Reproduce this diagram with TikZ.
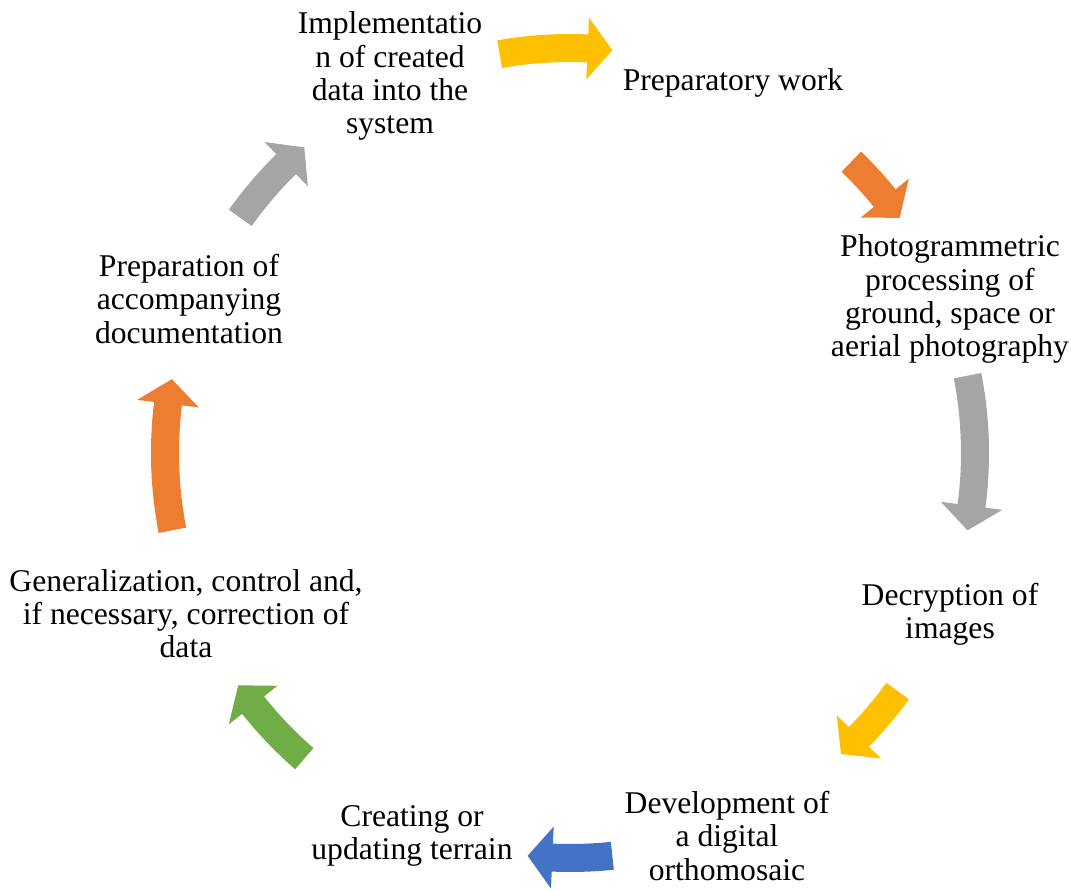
\documentclass[tikz,border=0pt]{standalone}
\usepackage{fontspec}
\setmainfont{Liberation Serif}
\usetikzlibrary{positioning}
\definecolor{cycYellow}{HTML}{FFC000}
\definecolor{cycOrange}{HTML}{ED7D31}
\definecolor{cycGray}{HTML}{A5A5A5}
\definecolor{cycBlue}{HTML}{4472C4}
\definecolor{cycGreen}{HTML}{70AD47}
\tikzset{
stage/.style={align=center, inner sep=0pt, font=\fontsize{18}{18.8}\selectfont}, % text of every stage
}
% curved block arrow on the cycle: colour, start angle, end angle (clockwise)
\newcommand{\cyclearrow}[3]{%
  \fill[#1] (#2:8.38) arc[start angle=#2, end angle={#3+3.5}, radius=8.38]
    -- ({#3+3.5}:8.72) -- (#3:8.1) -- ({#3+3.5}:7.48) -- ({#3+3.5}:7.82)
    arc[start angle={#3+3.5}, end angle=#2, radius=7.82] -- cycle;
}

\begin{document}
\begin{tikzpicture}
        \useasboundingbox (-11.4,-8.76) rectangle (10.02,9.06);

        \node[stage] (impl)  at (-3.6,7.54)   {Implementatio\\n of created\\data into the\\system};
        \node[stage] (prep)  at (3.26,7.4)    {Preparatory work};
        \node[stage] (photo) at (7.6,3.08)    {Photogrammetric\\processing of\\ground, space or\\aerial photography};
        \node[stage] (decr)  at (7.6,-3.22)   {Decryption of\\images};
        \node[stage] (devel) at (3.14,-7.66)  {Development of\\a digital\\orthomosaic};
        \node[stage] (terr)  at (-3.16,-7.66) {Creating or\\updating terrain};
        \node[stage] (gen)   at (-7.68,-3.22) {Generalization, control and,\\if necessary, correction of\\data};
        \node[stage] (docs)  at (-7.62,3.08)  {Preparation of\\accompanying\\documentation};

        % arrows between the stages
        \cyclearrow{cycYellow}{100}{84}
        \cyclearrow{cycOrange}{46}{35.5}
        \cyclearrow{cycGray}{11}{-11}
        \cyclearrow{cycYellow}{-36}{-48}
        \cyclearrow{cycBlue}{-84}{-96}
        \cyclearrow{cycGreen}{229}{215}
        \cyclearrow{cycOrange}{191}{169.5}
        \cyclearrow{cycGray}{144.5}{131}
    \end{tikzpicture}
\end{document}
